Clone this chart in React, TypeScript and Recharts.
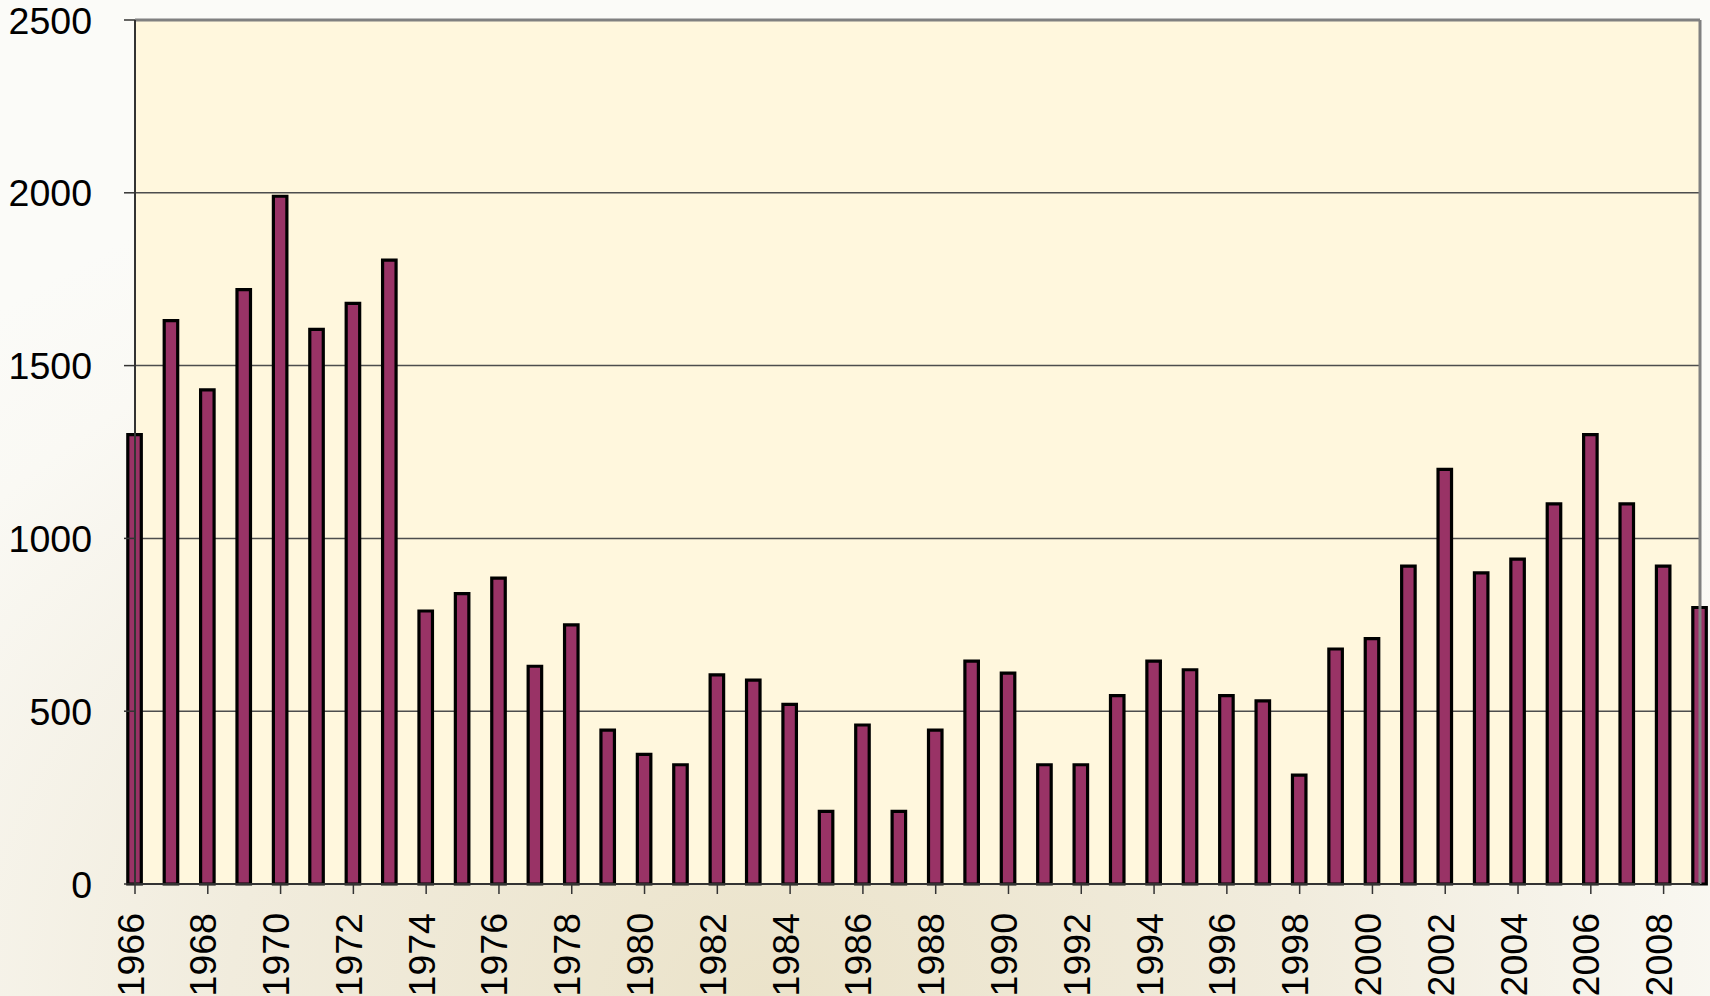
import { Bar, BarChart, CartesianGrid, ReferenceLine, XAxis, YAxis } from "recharts"

const years = [
  1966, 1967, 1968, 1969, 1970, 1971, 1972, 1973, 1974, 1975, 1976,
  1977, 1978, 1979, 1980, 1981, 1982, 1983, 1984, 1985, 1986, 1987,
  1988, 1989, 1990, 1991, 1992, 1993, 1994, 1995, 1996, 1997, 1998,
  1999, 2000, 2001, 2002, 2003, 2004, 2005, 2006, 2007, 2008, 2009,
]

const counts = [
  1300, 1630, 1430, 1720, 1990, 1605, 1680, 1805, 790, 840, 885,
  630, 750, 445, 375, 345, 605, 590, 520, 210, 460, 210,
  445, 645, 610, 345, 345, 545, 645, 620, 545, 530, 315,
  680, 710, 920, 1200, 900, 940, 1100, 1300, 1100, 920, 800,
]

const yearTicks = [
  1966, 1968, 1970, 1972, 1974, 1976, 1978, 1980, 1982, 1984, 1986,
  1988, 1990, 1992, 1994, 1996, 1998, 2000, 2002, 2004, 2006, 2008,
]

const valueTicks = [0, 500, 1000, 1500, 2000, 2500]

const data = years.map((year, i) => ({ year, count: counts[i] }))

const FONT = '"Liberation Sans", Arial, Helvetica, sans-serif'

function YearTick({ x, y, payload }: any) {
  // labels sit a few px left of their tick, like the original
  return (
    <text
      x={x}
      y={y}
      transform={`rotate(-90 ${x} ${y})`}
      textAnchor="end"
      dy={8.5}
      fontSize={37.5}
      fontFamily={FONT}
      fill="#000"
    >
      {payload.value}
    </text>
  )
}

function ValueTick({ x, y, payload }: any) {
  return (
    <text x={x} y={y} textAnchor="end" dy="0.36em" fontSize={37.5} fontFamily={FONT} fill="#000">
      {payload.value}
    </text>
  )
}

export default function App() {
  return (
    <div
      style={{
        position: "absolute",
        left: 0,
        top: 0,
        width: 1710,
        height: 996,
        background:
          "radial-gradient(ellipse 70% 90% at 45% 100%, #ebe3ca 0%, #f1ecdd 45%, #faf9f4 85%, #fbfbf8 100%)",
      }}
    >
      <BarChart
        width={1710}
        height={996}
        data={data}
        margin={{ top: 20, right: 10, left: 0, bottom: 0 }}
      >
        <CartesianGrid vertical={false} stroke="#4d4d4d" strokeWidth={1.5} fill="#fff7dd" />
        <ReferenceLine y={2500} stroke="#808080" strokeWidth={3} />
        <ReferenceLine x={2009} stroke="#808080" strokeWidth={3} />
        <XAxis
          dataKey="year"
          type="number"
          domain={[1966, 2009]}
          ticks={yearTicks}
          interval={0}
          height={112}
          tickSize={10}
          tickMargin={19}
          axisLine={{ stroke: "#333", strokeWidth: 2 }}
          tickLine={{ stroke: "#333", strokeWidth: 1.5 }}
          tick={<YearTick />}
        />
        <YAxis
          type="number"
          domain={[0, 2500]}
          ticks={valueTicks}
          interval={0}
          width={135}
          tickSize={11}
          tickMargin={32}
          axisLine={{ stroke: "#333", strokeWidth: 2 }}
          tickLine={{ stroke: "#333", strokeWidth: 1.5 }}
          tick={<ValueTick />}
        />
        <Bar
          dataKey="count"
          fill="#993366"
          stroke="#000"
          strokeWidth={3.2}
          barSize={13.5}
          isAnimationActive={false}
        />
      </BarChart>
    </div>
  )
}
